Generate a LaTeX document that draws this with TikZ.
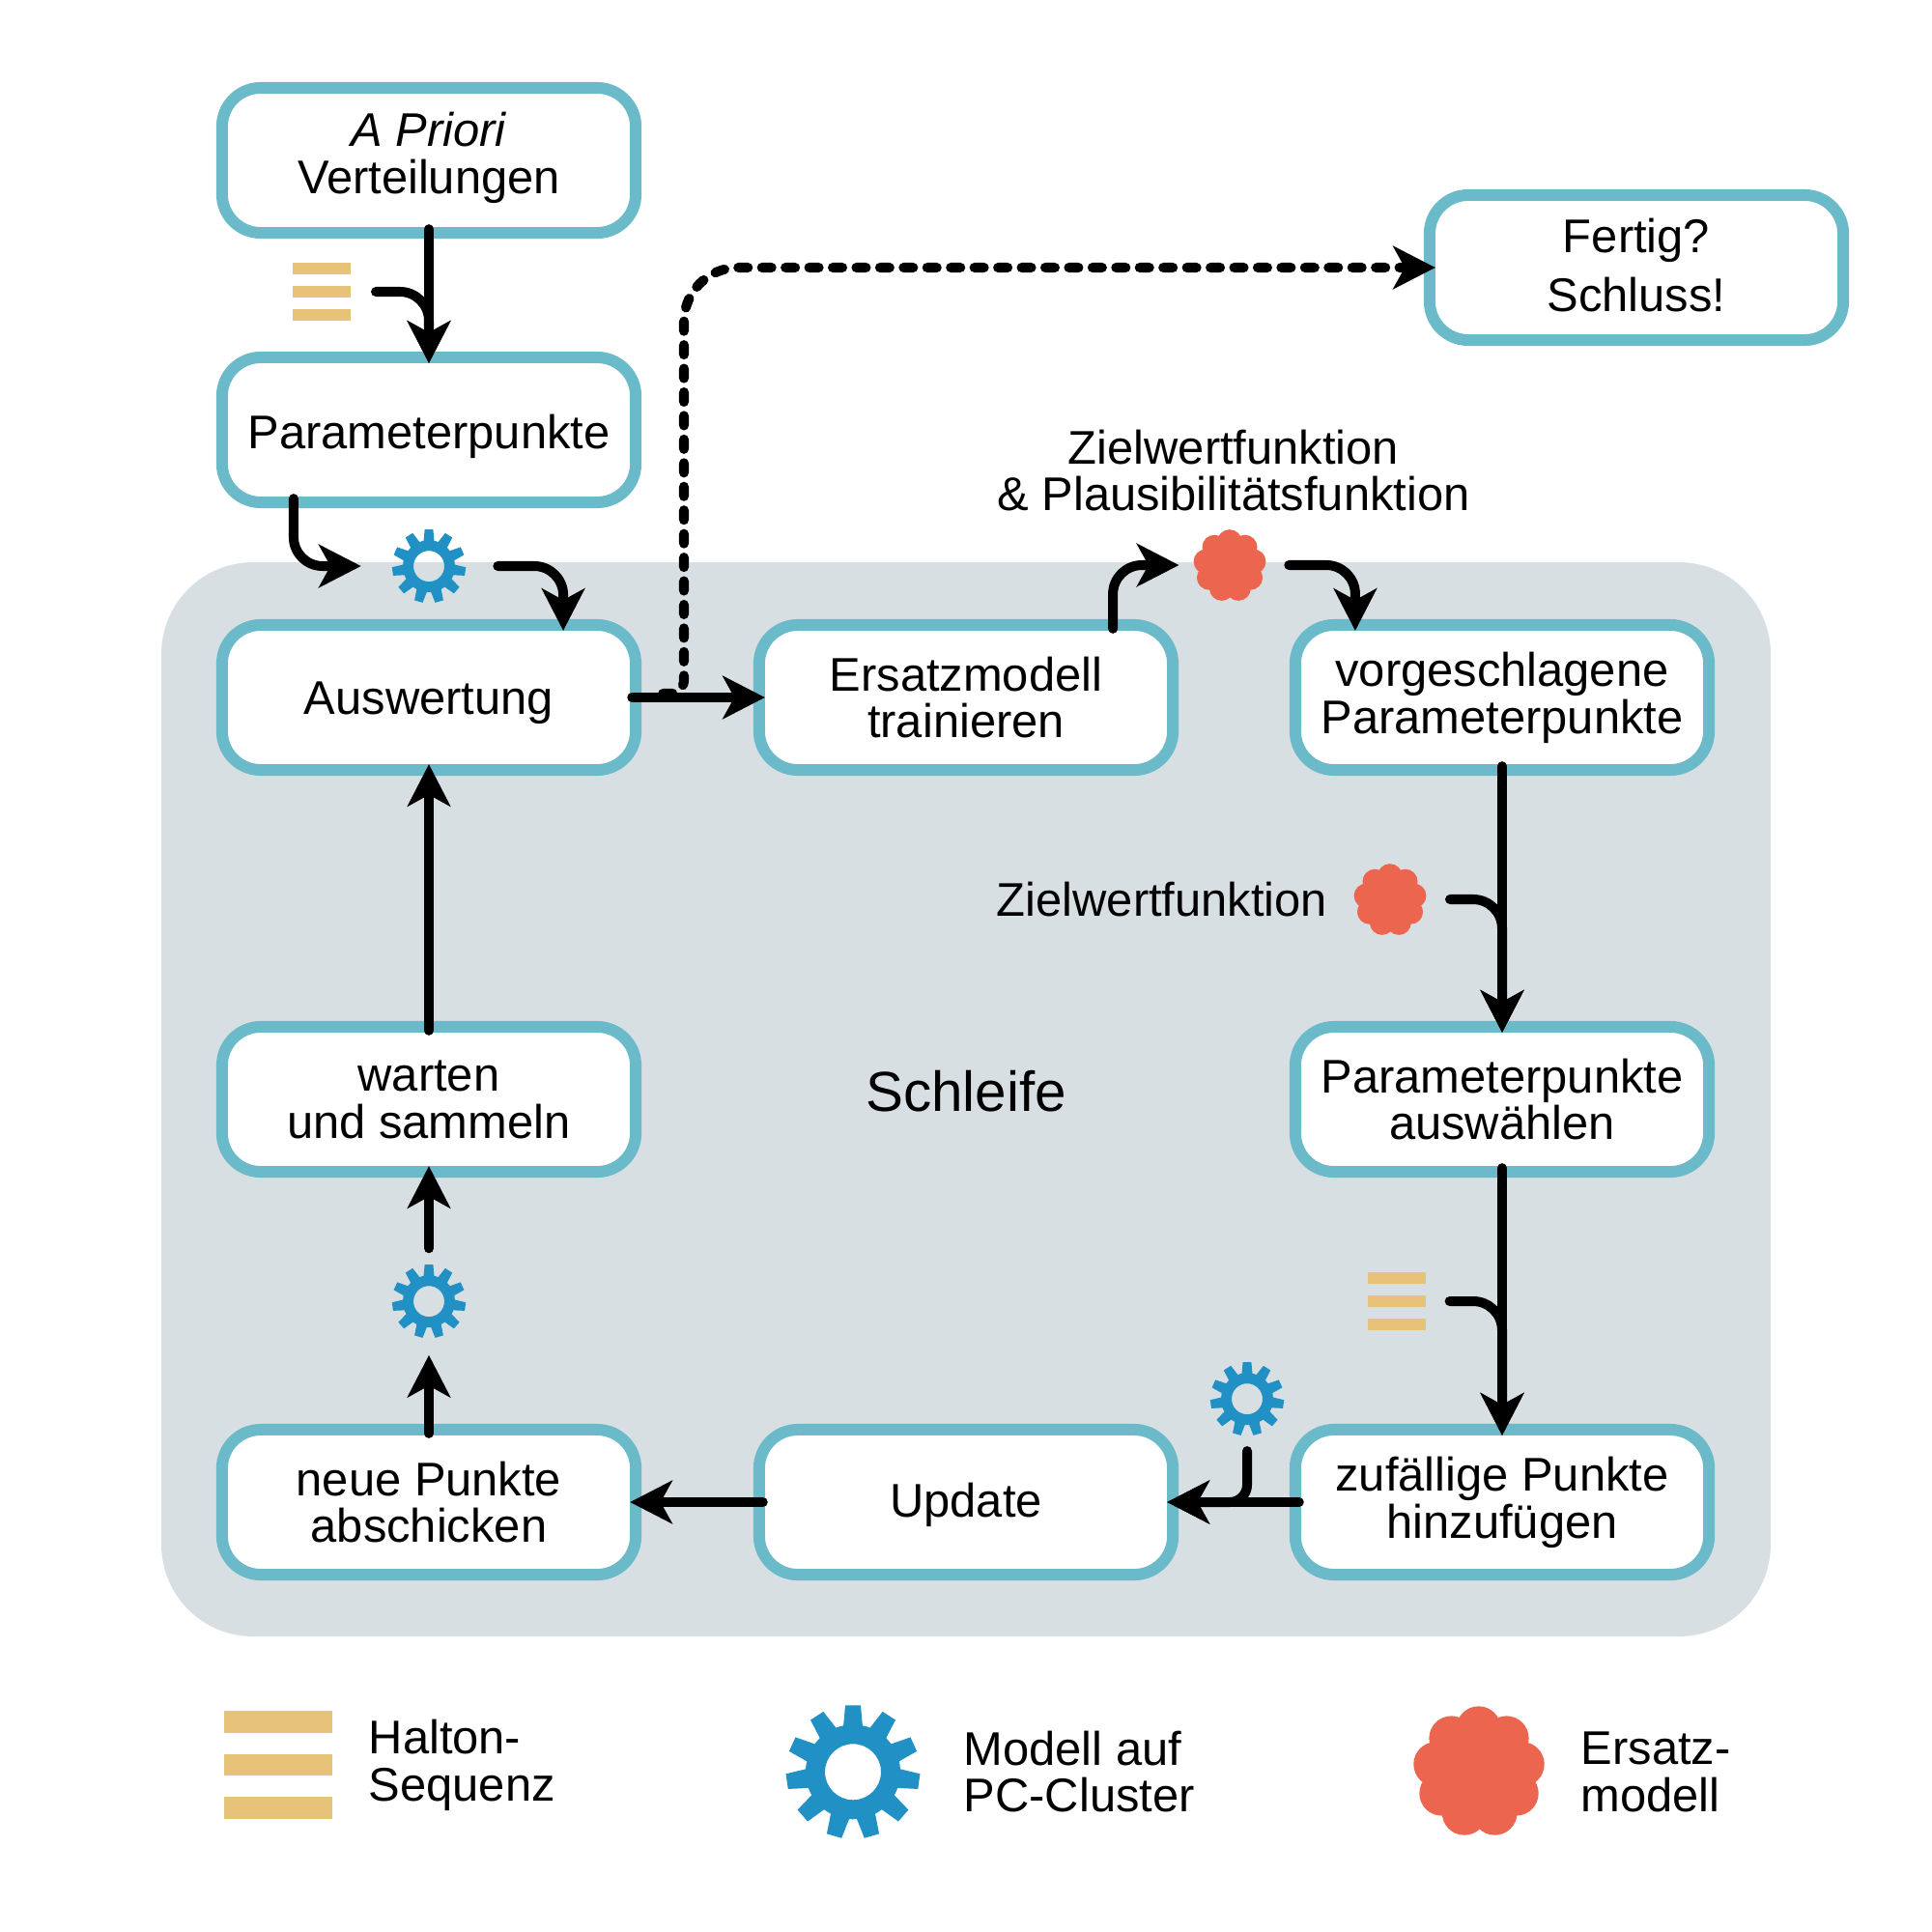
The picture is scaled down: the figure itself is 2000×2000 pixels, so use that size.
\documentclass[tikz,border=0pt]{standalone}
\usepackage{fontspec}
\setmainfont{Liberation Sans}
\usetikzlibrary{arrows.meta}
\definecolor{rahmen}{HTML}{6ABAC9}
\definecolor{schleifegrau}{HTML}{D7DFE3}
\definecolor{haltongelb}{HTML}{E7C279}
\definecolor{zahnblau}{HTML}{2090C5}
\definecolor{wolkerot}{HTML}{EC654F}
% icons, #1 is the half size
\newcommand{\gearicon}[1]{\tikz[x=#1,y=#1]{
  \fill[zahnblau,even odd rule] (0,0) circle (.71) (0,0) circle (.42);
  \foreach \a in {0,1,...,10}
    \fill[zahnblau,rotate=\a*360/11] (-.15,.62)--(-.115,1)--(.115,1)--(.15,.62)--cycle;
}}
\newcommand{\haltonicon}[1]{\tikz[x=#1,y=#1]{
  \fill[haltongelb] (-1,.6) rectangle (1,1);
  \fill[haltongelb] (-1,-.2) rectangle (1,.2);
  \fill[haltongelb] (-1,-1) rectangle (1,-.6);
}}
\newcommand{\cloudicon}[1]{\tikz[x=#1,y=#1]{
  \fill[wolkerot] (0,0) circle (.68);
  \foreach \p in {(0,.64),(.43,.49),(.67,.09),(.58,-.36),(.25,-.66),(-.22,-.66),(-.57,-.36),(-.66,.09),(-.42,.49)}
    \fill[wolkerot] \p circle (.345);
}}
\tikzset{
  box/.style={draw=rahmen,fill=white,line width=3.41pt,rounded corners=.4cm,minimum width=4.28cm,
    minimum height=1.5cm,inner sep=0pt,outer sep=0pt,align=center,font=\fontsize{13.9}{13.9}\selectfont},
  single/.style={text height=10pt,text depth=0pt},
  label/.style={inner sep=0pt,align=center,font=\fontsize{13.9}{13.9}\selectfont},
  legend/.style={inner sep=0pt,align=left,anchor=west,font=\fontsize{13.9}{13.9}\selectfont},
  icon/.style={inner sep=0pt,outer sep=0pt},
  flow/.style={->,line width=2.85pt,line cap=round,shorten >=-1.7pt,shorten <=-1.1pt},
  bent/.style={flow,rounded corners=.3cm},
}
\begin{document}
\begin{tikzpicture}[x=.01cm,y=-.01cm,>={Stealth[length=12.4pt,width=12.6pt,inset=3.4pt]}]
\useasboundingbox (0,0) rectangle (2000,2000);
\fill[schleifegrau,rounded corners=.95cm] (167,582) rectangle (1833,1694);

% left column
\node[box,text depth=4.6pt] (apriori) at (444,166) {\textit{A Priori}\\Verteilungen};
\node[box,single,text height=11pt] (punkte) at (444,445) {Parameterpunkte};
\node[box,single] (auswertung) at (444,722) {Auswertung};
\node[box] (warten) at (444,1138) {warten\\und sammeln};
\node[box] (neue) at (444,1555) {neue Punkte\\abschicken};
% middle and right
\node[box] (ersatz) at (1000,722) {Ersatzmodell\\trainieren};
\node[box,single,text height=9pt] (update) at (1000,1555) {Update};
\node[box,text depth=1.5pt] (fertig) at (1694,277) {Fertig?\\[3.4pt]Schluss!};
\node[box] (vorschlag) at (1555,722) {vorgeschlagene\\Parameterpunkte};
\node[box] (auswahl) at (1555,1138) {Parameterpunkte\\auswählen};
\node[box] (zufall) at (1555,1555) {zufällige Punkte\\hinzufügen};

\node[label] (zielplaus) at (1277,487) {Zielwertfunktion\\\& Plausibilitätsfunktion};
\node[label] (ziel) at (1203,931) {Zielwertfunktion};
\node[label,font=\fontsize{16.6}{18}\selectfont] (schleife) at (1000,1130) {Schleife};

% icons
\node[icon] (haltonA) at (333,302) {\haltonicon{.3cm}};
\node[icon] (haltonB) at (1446,1347) {\haltonicon{.3cm}};
\node[icon] (gearA) at (444,586) {\gearicon{.38cm}};
\node[icon] (gearB) at (444,1347) {\gearicon{.38cm}};
\node[icon] (gearC) at (1291,1448) {\gearicon{.38cm}};
\node[icon] (cloudA) at (1273,585) {\cloudicon{.37cm}};
\node[icon] (cloudB) at (1439,931) {\cloudicon{.37cm}};

% legend
\node[icon] (haltonL) at (288,1827) {\haltonicon{.555cm}};
\node[legend] (haltonT) at (381,1827) {Halton-\\Sequenz};
\node[icon] (gearL) at (883,1834) {\gearicon{.69cm}};
\node[legend] (gearT) at (997,1834) {Modell auf\\PC-Cluster};
\node[icon] (cloudL) at (1531,1833) {\cloudicon{.67cm}};
\node[legend] (cloudT) at (1636,1834) {Ersatz-\\modell};

\coordinate (split) at (690,718);
\coordinate (splitup) at (708,718);

% arrows
\draw[flow] (apriori.south)--(punkte.north);
\draw[bent,shorten <=7.4pt] (haltonA.east) -| (punkte.north);
\draw[bent,shorten >=9.1pt] ([xshift=-1.4cm]punkte.south) |- (gearA.west);
\draw[bent,shorten <=9.4pt] (gearA.east) -| ([xshift=1.39cm]auswertung.north);
\draw[flow] (auswertung.east)--(ersatz.west);
\draw[flow,dash pattern=on 2.85pt off 4.1pt] (split) [rounded corners=4pt] -- (splitup) [rounded corners=16pt] -- (splitup |- fertig.west) -- (fertig.west);
\draw[bent,shorten >=4.3pt] ([xshift=1.52cm]ersatz.north) |- (cloudA.west);
\draw[bent,shorten <=6.8pt] (cloudA.east) -| ([xshift=-1.52cm]vorschlag.north);
\draw[flow] (vorschlag.south)--(auswahl.north);
\draw[bent,shorten <=7pt] (cloudB.east) -| (auswahl.north);
\draw[flow] (auswahl.south)--(zufall.north);
\draw[bent,shorten <=7pt] (haltonB.east) -| (zufall.north);
\draw[flow] (zufall.west)--(update.east);
\draw[flow,rounded corners=.18cm,shorten <=4.6pt] (gearC.south) |- (update.east);
\draw[flow] (update.west)--(neue.east);
\draw[flow,shorten >=5.1pt] (neue.north)--(gearB.south);
\draw[flow,shorten <=4.8pt] (gearB.north)--(warten.south);
\draw[flow] (warten.north)--(auswertung.south);
\end{tikzpicture}
\end{document}
